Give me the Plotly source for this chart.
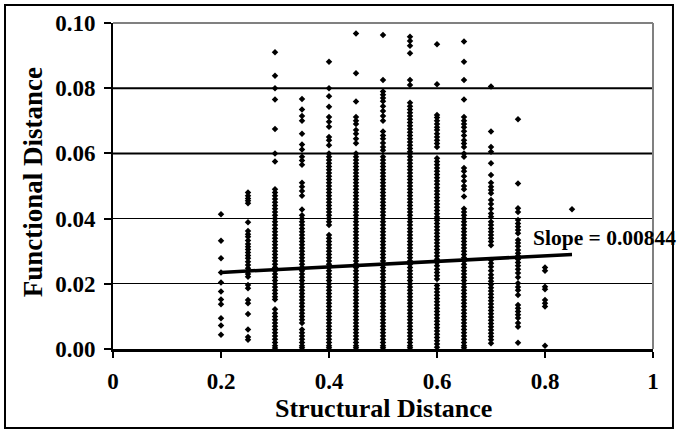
import plotly.graph_objects as go

# Discrete structural-distance columns and the functional distances read in each
col_x = [0.2, 0.25, 0.3, 0.35, 0.4, 0.45, 0.5, 0.55, 0.6, 0.65, 0.7, 0.75, 0.8, 0.85]

y_020 = [0.0413, 0.0332, 0.0278, 0.0235, 0.0204, 0.0176, 0.0152, 0.0137, 0.0094, 0.0072, 0.0044]
y_025 = [0.0480, 0.0470, 0.0462, 0.0455, 0.0447, 0.0389, 0.0362, 0.0352, 0.0344, 0.0333, 0.0322,
         0.0314, 0.0305, 0.0296, 0.0287, 0.0278, 0.0268, 0.0258, 0.0248, 0.0238, 0.0230, 0.0222,
         0.0196, 0.0186, 0.0150, 0.0140, 0.0107, 0.0060, 0.0037, 0.0028]
y_030 = [0.0910, 0.0838, 0.0800, 0.0765, 0.0675, 0.0600, 0.0575,
         0.049, 0.048, 0.047, 0.046, 0.045, 0.044, 0.043, 0.042, 0.041, 0.040, 0.039, 0.038,
         0.037, 0.036, 0.035, 0.034, 0.033, 0.032, 0.031, 0.030, 0.029, 0.028, 0.027, 0.026,
         0.025, 0.024, 0.023, 0.022, 0.021, 0.020, 0.019, 0.018, 0.017, 0.0160, 0.0152,
         0.0122, 0.011, 0.010, 0.009, 0.008, 0.007, 0.006, 0.005, 0.004, 0.003, 0.002, 0.001, 0.0003]
y_035 = [0.0767, 0.0735, 0.0715, 0.0700, 0.0660, 0.0627, 0.0612, 0.0590, 0.0578, 0.0565, 0.0510,
         0.0498, 0.0485, 0.0470, 0.0428, 0.0410,
         0.040, 0.039, 0.038, 0.037, 0.036, 0.035, 0.034, 0.033, 0.032, 0.031, 0.030, 0.029,
         0.028, 0.027, 0.026, 0.025, 0.024, 0.023, 0.022, 0.021, 0.020, 0.019, 0.018, 0.017,
         0.016, 0.015, 0.014, 0.013, 0.012, 0.011, 0.010, 0.009, 0.008, 0.006, 0.005, 0.004,
         0.003, 0.002, 0.001, 0.0004]
y_040 = [0.0881, 0.0800, 0.0775, 0.0743, 0.0712, 0.0697, 0.0682, 0.0650, 0.0640, 0.0625,
         0.060, 0.059, 0.058, 0.057, 0.056, 0.055, 0.054, 0.053, 0.052, 0.051, 0.050, 0.049,
         0.048, 0.047, 0.046, 0.045, 0.044, 0.043, 0.042, 0.041, 0.040, 0.039, 0.038, 0.035,
         0.034, 0.033, 0.032, 0.031, 0.030, 0.029, 0.028, 0.027, 0.026, 0.025, 0.024, 0.023,
         0.022, 0.021, 0.020, 0.019, 0.018, 0.017, 0.016, 0.015, 0.014, 0.013, 0.012, 0.011,
         0.010, 0.009, 0.008, 0.007, 0.006, 0.005, 0.004, 0.003, 0.002, 0.001, 0.0004]
y_045 = [0.0968, 0.0846, 0.0759, 0.0712, 0.0700, 0.0690, 0.0672, 0.0660, 0.0645, 0.0631,
         0.060, 0.059, 0.058, 0.057, 0.056, 0.055, 0.054, 0.053, 0.052, 0.051, 0.050, 0.049,
         0.048, 0.047, 0.046, 0.045, 0.044, 0.043, 0.042, 0.041, 0.040, 0.039, 0.038, 0.037,
         0.036, 0.035, 0.034, 0.033, 0.032, 0.031, 0.030, 0.029, 0.028, 0.027, 0.026, 0.025,
         0.024, 0.023, 0.022, 0.021, 0.020, 0.019, 0.018, 0.017, 0.016, 0.015, 0.014, 0.013,
         0.012, 0.011, 0.010, 0.009, 0.008, 0.007, 0.006, 0.005, 0.004, 0.003, 0.002, 0.001, 0.0004]
y_050 = [0.0963, 0.0825, 0.0790, 0.0780, 0.0770, 0.0760, 0.0745, 0.0730, 0.0715, 0.0700,
         0.0667, 0.0655, 0.0645, 0.0632, 0.0620, 0.0610,
         0.059, 0.058, 0.057, 0.056, 0.055, 0.054, 0.053, 0.052, 0.051, 0.050, 0.049, 0.048,
         0.047, 0.046, 0.045, 0.044, 0.043, 0.042, 0.041, 0.040, 0.039, 0.038, 0.037, 0.036,
         0.035, 0.034, 0.033, 0.032, 0.031, 0.030, 0.029, 0.028, 0.027, 0.026, 0.025, 0.024,
         0.023, 0.022, 0.021, 0.020, 0.019, 0.018, 0.017, 0.016, 0.015, 0.014, 0.013, 0.012,
         0.011, 0.010, 0.009, 0.008, 0.007, 0.006, 0.005, 0.004, 0.003, 0.002, 0.001, 0.0004]
y_055 = [0.0958, 0.0945, 0.0930, 0.0907, 0.0825, 0.0810,
         0.0755, 0.0745, 0.0735, 0.0725, 0.0715, 0.0705, 0.0695, 0.0685, 0.0675, 0.0665,
         0.0655, 0.0645, 0.0635, 0.0625, 0.0615, 0.0605,
         0.060, 0.059, 0.058, 0.057, 0.056, 0.055, 0.054, 0.053, 0.052, 0.051, 0.050, 0.049,
         0.048, 0.047, 0.046, 0.045, 0.044, 0.043, 0.042, 0.041, 0.040, 0.039, 0.038, 0.037,
         0.036, 0.035, 0.034, 0.033, 0.032, 0.031, 0.030, 0.029, 0.028, 0.027, 0.026, 0.025,
         0.024, 0.023, 0.022, 0.021, 0.020, 0.019, 0.018, 0.017, 0.016, 0.015, 0.014, 0.013,
         0.012, 0.011, 0.010, 0.009, 0.008, 0.007, 0.006, 0.005, 0.004, 0.003, 0.002, 0.001, 0.0004]
y_060 = [0.0935, 0.0812, 0.0718, 0.0710, 0.0700, 0.0690, 0.0680, 0.0672, 0.0660, 0.0650,
         0.0640, 0.0630, 0.0620,
         0.0585, 0.0575, 0.0565, 0.0555, 0.0545, 0.0535, 0.0525, 0.0515, 0.0505, 0.0495,
         0.0485, 0.0475, 0.0465, 0.0455, 0.0445, 0.0435, 0.0425, 0.0415, 0.0405, 0.0395,
         0.0385, 0.0375, 0.0365, 0.0355, 0.0345, 0.0335, 0.0325, 0.0315, 0.0305, 0.0295,
         0.0285, 0.0275, 0.0265, 0.0255, 0.0245, 0.0235, 0.0225, 0.0215,
         0.0195, 0.0185, 0.0175, 0.0165, 0.0155, 0.0145, 0.0135, 0.0125, 0.0115, 0.0105,
         0.0095, 0.0085, 0.0075, 0.0065, 0.0055, 0.0045, 0.0035, 0.0025, 0.0015, 0.0005]
y_065 = [0.0943, 0.0881, 0.0825, 0.0765, 0.0712, 0.0700, 0.0690, 0.0680, 0.0668, 0.0655,
         0.0640, 0.0630, 0.0620, 0.0600, 0.0590, 0.0555, 0.0545, 0.0530, 0.0515, 0.0500,
         0.0490, 0.0468,
         0.043, 0.042, 0.041, 0.040, 0.039, 0.038, 0.037, 0.036, 0.035, 0.034, 0.033, 0.032,
         0.031, 0.030, 0.029, 0.028, 0.027, 0.026, 0.025, 0.024, 0.023, 0.022, 0.021, 0.020,
         0.019, 0.018, 0.017, 0.016, 0.015, 0.014, 0.013, 0.012, 0.011, 0.010, 0.009, 0.008,
         0.007, 0.006, 0.005, 0.004, 0.003, 0.002, 0.001, 0.0004]
y_070 = [0.0805, 0.0667, 0.0620, 0.0605, 0.0570, 0.0534, 0.0510, 0.0498, 0.0488, 0.0478,
         0.0457, 0.0445, 0.0430, 0.0416, 0.0406, 0.0390, 0.0380, 0.0370, 0.0360, 0.0350,
         0.0340, 0.0330, 0.0318,
         0.0273, 0.0263, 0.0252, 0.0240, 0.0228, 0.0218, 0.0208, 0.0198, 0.0188, 0.0178,
         0.0168, 0.0158, 0.0148, 0.0138, 0.0128, 0.0118, 0.0108, 0.0098, 0.0088, 0.0078,
         0.0068, 0.0058, 0.0048, 0.0038, 0.0028, 0.0018]
y_075 = [0.0705, 0.0508, 0.0432, 0.0420, 0.0396, 0.0385, 0.0375, 0.0365, 0.0355, 0.0334,
         0.0325, 0.0315, 0.0304, 0.0294, 0.0285, 0.0275, 0.0265, 0.0255, 0.0245, 0.0233,
         0.0220, 0.0202, 0.0190, 0.0180, 0.0166, 0.0135, 0.0125, 0.0115, 0.0105, 0.0095,
         0.0080, 0.0068, 0.0019]
y_080 = [0.0250, 0.0240, 0.0191, 0.0183, 0.0150, 0.0140, 0.0130, 0.0010]
y_085 = [0.0429]

columns = [y_020, y_025, y_030, y_035, y_040, y_045, y_050, y_055, y_060, y_065,
           y_070, y_075, y_080, y_085]

# Linear trend line end points
trend_x = [0.2, 0.85]
trend_y = [0.0235, 0.0290]
slope_label = "Slope = 0.00844"

x_ticks = [0, 0.2, 0.4, 0.6, 0.8, 1]
x_tick_text = ["0", "0.2", "0.4", "0.6", "0.8", "1"]
y_ticks = [0.00, 0.02, 0.04, 0.06, 0.08, 0.10]
y_tick_text = ["0.00", "0.02", "0.04", "0.06", "0.08", "0.10"]

xs, ys = [], []
for cx, col in zip(col_x, columns):
    for v in col:
        xs.append(cx)
        ys.append(v)

FONT = "Liberation Serif"

fig = go.Figure()
fig.add_trace(go.Scatter(
    x=xs, y=ys, mode="markers",
    marker=dict(symbol="diamond", size=5, color="black", line=dict(width=0)),
    showlegend=False, hoverinfo="skip", cliponaxis=False))
fig.add_trace(go.Scatter(
    x=trend_x, y=trend_y, mode="lines",
    line=dict(color="black", width=3.5), showlegend=False, hoverinfo="skip"))

shapes = [
    dict(type="line", xref="paper", yref="paper", x0=0, x1=1, y0=1, y1=1,
         line=dict(color="#808080", width=2)),
    dict(type="line", xref="paper", yref="paper", x0=1, x1=1, y0=0, y1=1,
         line=dict(color="#808080", width=2)),
    dict(type="rect", xref="paper", yref="paper", x0=-0.2, x1=1.037, y0=-0.2423, y1=1.055,
         line=dict(color="black", width=2), fillcolor="rgba(0,0,0,0)", layer="below"),
]
# the 0.06 and 0.08 gridlines look heavier in the original
for gv in (y_ticks[3], y_ticks[4]):
    shapes.append(dict(type="line", xref="paper", yref="y", x0=0, x1=1, y0=gv, y1=gv,
                       line=dict(color="black", width=2), layer="below"))

fig.update_layout(
    width=678, height=433,
    margin=dict(l=113, r=25, t=23, b=84),
    paper_bgcolor="white", plot_bgcolor="white",
    font=dict(family=FONT, color="black"),
    xaxis=dict(range=[0, 1], tickvals=x_ticks, ticktext=x_tick_text,
               showgrid=False, zeroline=False, showline=True, linecolor="black", linewidth=2.5,
               ticks="outside", ticklen=6, tickwidth=2, tickcolor="black",
               ticklabelstandoff=4,
               tickfont=dict(family=FONT, size=23, weight="bold", color="black")),
    yaxis=dict(range=[0, 0.1], tickvals=y_ticks, ticktext=y_tick_text,
               showgrid=True, gridcolor="black", gridwidth=1, zeroline=False,
               showline=True, linecolor="black", linewidth=2,
               ticks="outside", ticklen=7, tickwidth=2, tickcolor="black",
               ticklabelstandoff=4,
               tickfont=dict(family=FONT, size=23, weight="bold", color="black")),
    shapes=shapes,
    annotations=[
        dict(text=slope_label, xref="x", yref="y", x=0.774, y=0.034, xanchor="left",
             yanchor="middle", showarrow=False,
             font=dict(family=FONT, size=21.5, weight="bold", color="black")),
        dict(text="Structural Distance", xref="paper", yref="paper", x=0.5, y=-0.181,
             xanchor="center", yanchor="middle", showarrow=False,
             font=dict(family=FONT, size=26, weight="bold", color="black")),
        dict(text="Functional Distance", xref="paper", yref="paper", x=-0.148, y=0.512,
             xanchor="center", yanchor="middle", textangle=-90, showarrow=False,
             font=dict(family=FONT, size=27, weight="bold", color="black")),
    ],
)

fig.write_html("out.html")
